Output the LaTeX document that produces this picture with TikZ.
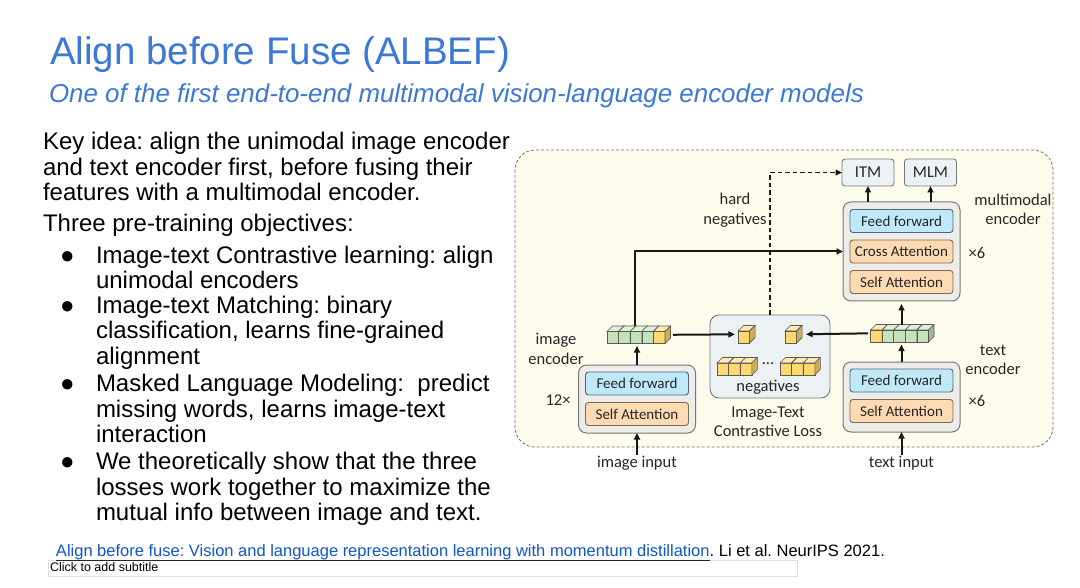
\documentclass[tikz,border=0pt]{standalone}
\usepackage{fontspec}
\setmainfont{Liberation Sans}
\newfontfamily\diagfont{Carlito}
\usetikzlibrary{arrows.meta,positioning,calc}
\frenchspacing

\definecolor{slideblue}{RGB}{60,120,216}
\definecolor{linkblue}{RGB}{17,85,204}
\definecolor{framefill}{RGB}{253,252,236}
\definecolor{encfill}{RGB}{236,236,232}
\definecolor{encdraw}{RGB}{120,120,120}
\definecolor{fffill}{RGB}{191,233,250}
\definecolor{ffdraw}{RGB}{80,100,120}
\definecolor{attfill}{RGB}{252,218,178}
\definecolor{attdraw}{RGB}{130,105,80}
\definecolor{headfill}{RGB}{236,241,244}
\definecolor{cubegreen}{RGB}{197,227,184}
\definecolor{cubeyellow}{RGB}{255,216,110}

% one feature cube: lower left corner of the front face (x,y), fill colour
\newcommand{\featcube}[3]{%
  \draw[cubeedge, fill=#3] (#1,#2) rectangle ++(11.6,-12);
  \draw[cubeedge, fill=#3!55!white] (#1,#2-12) -- ++(5.5,-5.5) -- ++(11.6,0) -- ++(-5.5,5.5) -- cycle;
  \draw[cubeedge, fill=#3!80!black] (#1+11.6,#2) -- ++(0,-12) -- ++(5.5,-5.5) -- ++(0,12) -- cycle;
}

\begin{document}
\begin{tikzpicture}[x=1pt, y=-1pt,
    every node/.style={inner sep=0pt, outer sep=0pt},
    bodytxt/.style={font=\fontsize{24}{25}\selectfont, text=black},
    lbl/.style={font=\diagfont\fontsize{16.5}{19.5}\selectfont, text=black!85, align=center},
    encbox/.style={draw=encdraw, fill=encfill, line width=1pt, rounded corners=8pt, minimum width=117pt},
    ffbox/.style={draw=ffdraw, fill=fffill, line width=0.9pt, rounded corners=3pt,
      minimum width=103pt, minimum height=23pt, text=black!85, font=\diagfont\fontsize{15}{17}\selectfont},
    attbox/.style={ffbox, draw=attdraw, fill=attfill},
    headbox/.style={draw=encdraw, fill=headfill, line width=0.9pt, rounded corners=3pt,
      minimum width=52pt, minimum height=27pt, text=black!85, font=\diagfont\fontsize{16.5}{19}\selectfont},
    arr/.style={-{Triangle[length=6.5pt,width=6pt]}, line width=2pt, black!90},
    cubeedge/.style={draw=black!65, line width=0.6pt},
    featrow/.style={minimum height=17.5pt},
  ]
  \fill[white] (0,0) rectangle (1080,588);
  \useasboundingbox (0,0) rectangle (1080,588);

  % slide heading
  \node[anchor=base west, text=slideblue, font=\fontsize{38.5}{40}\selectfont] (title) at (50,65) {Align before Fuse (ALBEF)};
  \node[anchor=base west, text=slideblue, font=\fontsize{25.9}{28}\selectfont\itshape] (subtitle) at (49,103)
    {One of the first end-to-end multimodal vision-language encoder models};

  % left column text
  \foreach \n/\yy/\lintext in {
      a/150/{Key idea: align the unimodal image encoder},
      b/175.3/{and text encoder first, before fusing their},
      c/200.6/{features with a multimodal encoder.},
      d/231.7/{Three pre-training objectives:}}
    \node[bodytxt, anchor=base west] (key\n) at (43,\yy) {\lintext};
  \foreach \n/\yy in {1/263.3, 2/313.5, 3/391.5, 4/469.5}
    \node[bodytxt, anchor=base west] (dot\n) at (60,\yy) {●};
  \foreach \n/\yy/\lintext in {
      a/263.3/{Image-text Contrastive learning: align},
      b/288.3/{unimodal encoders},
      c/313.5/{Image-text Matching: binary},
      d/339/{classification, learns fine-grained},
      e/364.5/{alignment},
      f/391.5/{Masked Language Modeling:\ \ predict},
      g/417/{missing words, learns image-text},
      h/442.5/{interaction},
      i/469.5/{We theoretically show that the three},
      j/495/{losses work together to maximize the},
      k/520.5/{mutual info between image and text.}}
    \node[bodytxt, anchor=base west] (obj\n) at (96,\yy) {\lintext};

  % diagram frame
  \draw[black!55, dash pattern=on 3pt off 2pt, line width=0.8pt, fill=framefill, rounded corners=20pt]
    (515,150) rectangle (1053,447);

  % multimodal encoder
  \node[encbox, minimum height=99pt] (mmenc) at (901.5,251.5) {};
  \node[attbox] (mmca) at (901.5,251.5) {Cross Attention};
  \node[ffbox, above=7.5pt of mmca] (mmff) {Feed forward};
  \node[attbox, below=7.5pt of mmca] (mmsa) {Self Attention};
  \node[headbox] (itm) at (868,172.5) {ITM};
  \node[headbox] (mlm) at (930.5,172.5) {MLM};

  % image encoder
  \node[encbox, minimum height=68pt] (imgenc) at (637,399) {};
  \node[ffbox] (imgff) at (637,383.5) {Feed forward};
  \node[attbox, below=7.5pt of imgff] (imgsa) {Self Attention};

  % text encoder
  \node[encbox, minimum height=70pt] (txtenc) at (901.5,397) {};
  \node[ffbox] (txtff) at (901.5,380.5) {Feed forward};
  \node[attbox, below=7.5pt of txtff] (txtsa) {Self Attention};

  % contrastive loss box
  \node[draw=encdraw, fill=headfill, line width=0.9pt, rounded corners=9pt,
    minimum width=120pt, minimum height=83pt] (itc) at (770,356.5) {};

  % feature rows
  \node[featrow, minimum width=63.5pt] (imgfeat) at (638.7,334.8) {};
  \node[featrow, minimum width=63.5pt] (txtfeat) at (902.3,333.3) {};
  \node[featrow, minimum width=17.1pt] (itcimg) at (746.5,334.3) {};
  \node[featrow, minimum width=17.1pt] (itctxt) at (793.5,334.3) {};
  \foreach \i in {0,...,3}
    \featcube{607+11.6*\i}{343.5}{cubegreen};
  \featcube{653.4}{343.5}{cubeyellow};
  \featcube{870.5}{342}{cubeyellow};
  \foreach \i in {1,...,4}
    \featcube{870.5+11.6*\i}{342}{cubegreen};
  \featcube{738}{343}{cubeyellow};
  \featcube{785}{343}{cubeyellow};
  \foreach \i in {0,1,2} {
    \featcube{717+11.6*\i}{375}{cubeyellow};
    \featcube{780+11.6*\i}{375}{cubeyellow};
  }
  \node[lbl] (negdots) at (768,364) {...};
  \node[lbl] (neglbl) at (768,387) {negatives};

  % labels
  \node[lbl] (imglbl) at (556,349) {image\\encoder};
  \node[lbl] (imgcnt) at (558,400) {12×};
  \node[lbl] (txtlbl) at (993,360) {text\\encoder};
  \node[lbl] (txtcnt) at (977,401) {×6};
  \node[lbl] (mmcnt) at (977,253) {×6};
  \node[lbl] (mmlbl) at (1013,209.5) {multimodal\\encoder};
  \node[lbl] (hardneg) at (735,210) {hard\\negatives};
  \node[lbl] (itclbl) at (768,422) {Image-Text\\Contrastive Loss};
  \node[lbl] (imgin) at (637,463) {image input};
  \node[lbl] (txtin) at (901.5,463) {text input};

  % connectors
  \draw[arr, shorten <=1pt] (imgin) -- (imgenc);
  \draw[arr, shorten >=2.5pt] (imgenc.north) -- (imgenc.north |- imgfeat.south);
  \draw[arr] ([xshift=-2pt]imgfeat.north -| imgenc.north) |- (mmenc.west);
  \draw[arr, shorten <=1pt] (txtin) -- (txtenc);
  \draw[arr, shorten >=2.5pt] (txtenc.north) -- (txtenc.north |- txtfeat.south);
  \draw[arr, shorten >=3pt] (mmenc.south |- txtfeat.north) -- (mmenc.south);
  \draw[arr] (mmenc.north -| itm) -- (itm);
  \draw[arr] (mmenc.north -| mlm) -- (mlm);
  \draw[arr, line width=1.5pt, dash pattern=on 4.5pt off 3pt] (itc.north) |- (itm.west);
  \draw[arr, shorten <=2.5pt, shorten >=3pt] (imgfeat.east) -- (itcimg.west);
  \draw[arr, shorten <=2.5pt, shorten >=4pt] (txtfeat.west) -- (itctxt.east);

  % reference line and placeholder
  \draw[gray!25, line width=0.5pt] (48,560) rectangle (797,576);
  \node[anchor=base west, text=linkblue, font=\fontsize{16.5}{18}\selectfont] (paper) at (56,556)
    {Align before fuse: Vision and language representation learning with momentum distillation};
  \node[anchor=base west, font=\fontsize{16.5}{18}\selectfont] (venue) at (paper.base east)
    {. Li et al. NeurIPS 2021.};
  \draw[black!85, line width=0.8pt] ([yshift=-1pt]paper.south west) -- ([yshift=-1pt]paper.south east);
  \node[anchor=base west, font=\fontsize{12.5}{13}\selectfont] (hint) at (50,571.5) {Click to add subtitle};
\end{tikzpicture}
\end{document}
